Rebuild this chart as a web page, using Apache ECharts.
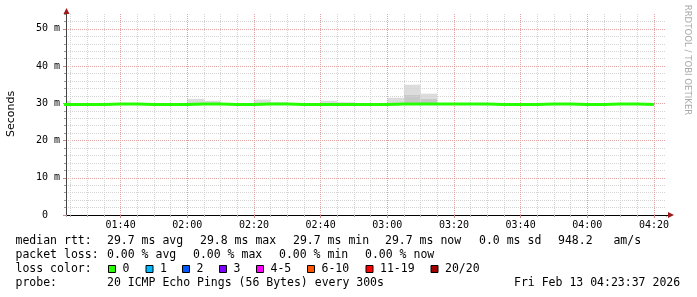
<!DOCTYPE html>
<html><head><meta charset="utf-8">
<script src="https://cdn.jsdelivr.net/npm/echarts@6/dist/echarts.min.js"></script>
<style>html,body{margin:0;padding:0;background:#fff}#c{width:697px;height:297px}</style>
</head><body><div id="c"></div>
<script>
// ---- data (5-minute steps, value held from step start to next step) ----
const stepStarts = ['01:20','01:25','01:30','01:35','01:40','01:45','01:50','01:55',
  '02:00','02:05','02:10','02:15','02:20','02:25','02:30','02:35','02:40','02:45','02:50','02:55',
  '03:00','03:05','03:10','03:15','03:20','03:25','03:30','03:35','03:40','03:45','03:50','03:55',
  '04:00','04:05','04:10','04:15'];
const lastStepEnd = '04:20';
// median rtt (ms)
const medianRtt = [29.7,29.7,29.7,29.8,29.8,29.7,29.7,29.7,
  29.8,29.8,29.7,29.7,29.8,29.8,29.7,29.7,29.7,29.7,29.7,29.7,
  29.8,29.8,29.8,29.8,29.8,29.8,29.7,29.7,29.7,29.8,29.8,29.7,
  29.7,29.8,29.8,29.7];
// smoke: highest ping (ms), null = no visible smoke
const smokeMax = [30.7,null,null,null,null,null,null,null,
  31.2,30.7,null,null,31.0,30.3,null,null,30.7,30.3,null,null,
  31.5,35.0,32.6,null,null,null,null,null,null,null,null,null,
  null,null,null,null];
// smoke: inner (darker) band top (ms)
const smokeInner = [null,null,null,null,null,null,null,null,
  null,null,null,null,null,null,null,null,null,null,null,null,
  null,32.3,31.2,null,null,null,null,null,null,null,null,null,
  null,null,null,null];
const viewStart = '01:23:37', viewEnd = '04:23:37';
const xTickLabels = ['01:40','02:00','02:20','02:40','03:00','03:20','03:40','04:00','04:20'];
const yTickValues = [0,10,20,30,40,50];
const yTickLabels = ['0  ','10 m','20 m','30 m','40 m','50 m'];
const yMax = 54;
const rttStats = ['29.7 ms avg','29.8 ms max','29.7 ms min','29.7 ms now','0.0 ms sd','948.2   am/s'];
const lossStats = ['0.00 % avg','0.00 % max','0.00 % min','0.00 % now'];
const lossLabels = ['0','1','2','3','4-5','6-10','11-19','20/20'];
const lossColors = ['#26ff00','#00b8ff','#0059ff','#7e00ff','#ff00ff','#ff5500','#ff0000','#a10000'];
const probeText = '20 ICMP Echo Pings (56 Bytes) every 300s';
const dateText = 'Fri Feb 13 04:23:37 2026';

// ---- helpers ----
function toMin(s){const p=s.split(':').map(Number);return p[0]*60+p[1]+(p[2]||0)/60;}
const xs = stepStarts.map(toMin).concat([toMin(lastStepEnd)]);
const med = medianRtt.concat([medianRtt[medianRtt.length-1]]);
const medPts = xs.map((x,i)=>[x,med[i]]);
// smoke rectangles [start, end, bottom, top]
const smokeDark = [], smokeLight = [];
stepStarts.forEach((s,i)=>{
  const a=xs[i], b=xs[i+1], m=medianRtt[i];
  if(smokeMax[i]==null) return;
  const inner = smokeInner[i]==null?m:smokeInner[i];
  if(inner>m) smokeDark.push([a,b,m,inner]);
  smokeLight.push([a,b,inner,smokeMax[i]]);
});
function smokeSeries(name,data,color){
  return {name:name,type:'custom',z:1,silent:true,data:data,encode:{x:[0,1],y:[2,3]},
    renderItem:(params,api)=>{
      const p0=api.coord([api.value(0),api.value(3)]);
      const p1=api.coord([api.value(1),api.value(2)]);
      const cs=params.coordSys;
      const shape=echarts.graphic.clipRectByRect({x:p0[0],y:p0[1],width:p1[0]-p0[0],height:p1[1]-p0[1]},
        {x:cs.x,y:cs.y,width:cs.width,height:cs.height});
      return shape?{type:'rect',shape:shape,style:{fill:color}}:null;
    }};
}

const xMin = toMin(viewStart), xMax = toMin(viewEnd);
const xMajor = xTickLabels.map(toMin);

const MONO='"DejaVu Sans Mono"';
const minorGrid = {color:'#d4d4d4',width:1,type:[1,1]};
const majorGrid = {color:'#dfa3a3',width:1,type:[1,1]};

const graphic = [];
function txt(x,y,t){graphic.push({type:'text',x:x,y:y,silent:true,
  style:{text:t,font:'11.5px '+MONO,fill:'#000',textAlign:'left',textVerticalAlign:'middle'}});}
txt(15.5,241.5,'median rtt:');
const r1x=[107,200,293,385,479,558];
rttStats.forEach((s,i)=>txt(r1x[i],241.5,s));
txt(15.5,255.5,'packet loss:');
const r2x=[107,193,279,365];
lossStats.forEach((s,i)=>txt(r2x[i],255.5,s));
txt(15.5,269.5,'loss color:');
const swx=[108,145.5,182,219,256,307,365.5,430.5];
lossLabels.forEach((l,i)=>{
  graphic.push({type:'rect',silent:true,shape:{x:swx[i]+0.5,y:265.5,width:7,height:7},
    style:{fill:lossColors[i],stroke:'#000',lineWidth:1}});
  txt(swx[i]+14.5,269.5,l);
});
txt(15.5,283.5,'probe:');
txt(107,283.5,probeText);
txt(514,283.5,dateText);
graphic.push({type:'text',x:11,y:114,rotation:Math.PI/2,silent:true,
  style:{text:'Seconds',font:'11px "DejaVu Sans"',fill:'#000',textAlign:'center',textVerticalAlign:'middle'}});
graphic.push({type:'text',x:687,y:60,rotation:-Math.PI/2,silent:true,
  style:{text:'RRDTOOL / TOBI OETIKER',font:'8.6px "DejaVu Sans"',fill:'#aaaaaa',textAlign:'center',textVerticalAlign:'middle'}});
graphic.push({type:'polygon',silent:true,z:10,shape:{points:[[63.5,14],[69.5,14],[66.5,8]]},style:{fill:'#9e1a1a'}});
graphic.push({type:'polygon',silent:true,z:10,shape:{points:[[668,212],[668,218],[674,215]]},style:{fill:'#9e1a1a'}});
graphic.push({type:'line',silent:true,z:10,shape:{x1:665,y1:215.5,x2:668,y2:215.5},style:{stroke:'#000',lineWidth:1}});

const labelFmt = v=>{const i=xMajor.findIndex(t=>Math.abs(t-v)<1e-6);return i>=0?xTickLabels[i]:'';};
const chart = echarts.init(document.getElementById('c'),null,{renderer:'canvas'});
chart.setOption({
  animation:false,
  backgroundColor:'#fff',
  grid:{left:66,right:31,top:14,bottom:82},
  xAxis:[
    {type:'value',min:xMin,max:xMax,minInterval:5,maxInterval:5,splitNumber:36,z:2,
      axisLine:{show:true,onZero:false,lineStyle:{color:'#000',width:1}},
      axisTick:{show:true,length:2,lineStyle:{color:'#aaa'}},
      axisLabel:{show:false},
      splitLine:{show:true,showMinLine:false,showMaxLine:false,lineStyle:minorGrid}},
    {type:'value',min:xMin,max:xMax,minInterval:20,maxInterval:20,splitNumber:9,position:'bottom',z:2,
      axisLine:{show:false},
      axisTick:{show:true,length:3,lineStyle:{color:'#c88'}},
      axisLabel:{show:true,margin:5,color:'#000',fontFamily:'DejaVu Sans Mono',fontSize:10,
        showMinLabel:false,showMaxLabel:false,formatter:labelFmt},
      splitLine:{show:true,showMinLine:false,showMaxLine:false,lineStyle:majorGrid}}
  ],
  yAxis:[
    {type:'value',min:0,max:yMax,interval:2,z:2,
      axisLine:{show:true,onZero:false,lineStyle:{color:'#444',width:1}},
      axisTick:{show:true,length:2,lineStyle:{color:'#999'}},
      axisLabel:{show:false},
      splitLine:{show:true,showMinLine:false,showMaxLine:false,lineStyle:minorGrid}},
    {type:'value',min:0,max:yMax,interval:10,position:'left',z:2,
      axisLine:{show:false},
      axisTick:{show:true,length:3,lineStyle:{color:'#c88'}},
      axisLabel:{show:true,margin:6,color:'#000',fontFamily:'DejaVu Sans Mono',fontSize:10,
        showMaxLabel:false,
        formatter:v=>{const i=yTickValues.indexOf(v);return i>=0?yTickLabels[i]:'';}},
      splitLine:{show:true,showMinLine:false,showMaxLine:false,lineStyle:majorGrid}}
  ],
  series:[
    smokeSeries('smokeOuter',smokeLight,'#dcdcdc'),
    smokeSeries('smokeInner',smokeDark,'#c8c8c8'),
    {name:'median',type:'line',step:'end',symbol:'none',z:3,silent:true,
      data:medPts,lineStyle:{color:lossColors[0],width:3}}
  ],
  graphic:graphic
});
</script></body></html>
